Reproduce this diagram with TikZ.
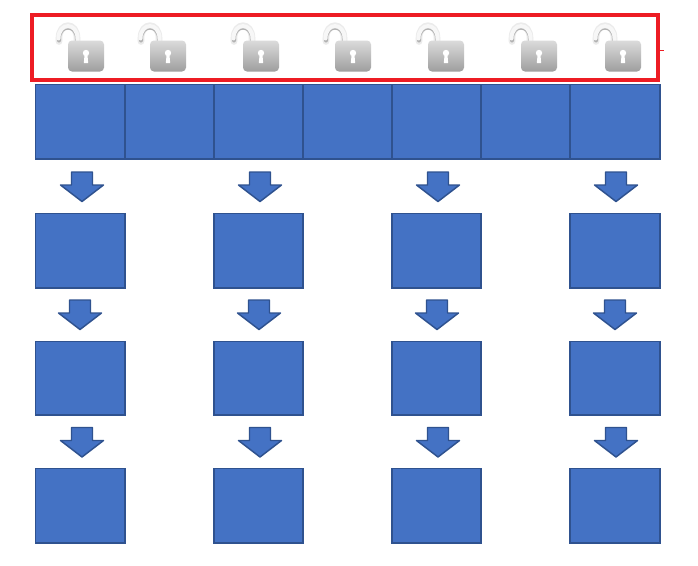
\documentclass[tikz,border=0pt]{standalone}
\usetikzlibrary{calc}
\definecolor{fillblue}{HTML}{4472C4}
\definecolor{edgeblue}{HTML}{2F528F}
\definecolor{framered}{HTML}{ED1C24}
\tikzset{
  x=0.75pt,y=-0.75pt,
  bluebox/.style={draw=edgeblue,fill=fillblue,line width=1.4pt,rectangle,inner sep=0pt,outer sep=0pt},
  blockarrow/.style={draw=edgeblue,fill=fillblue,line width=1.1pt,line join=round},
  downarrow/.pic={
    \path[blockarrow] (-10.5,0) -- (10.5,0) -- (10.5,13) -- (21.5,13) -- (0,29.5) -- (-21.5,13) -- (-10.5,13) -- cycle;
  },
  openlock/.pic={
    % shackle (origin = top-left of lock body)
    \draw[line width=5pt,color=black!8,line cap=round] (-9,1) -- (-9,-2)
       .. controls (-9,-19) and (9,-19) .. (9,-2) -- (9,2);
    \draw[line width=3pt,color=black!30,line cap=round] (-9,0) -- (-9,-2)
       .. controls (-9,-16.5) and (9,-16.5) .. (9,-2) -- (9,2);
    \draw[line width=3pt,color=black!3,line cap=round] (-9.5,-2)
       .. controls (-9.5,-18.5) and (9.5,-18.5) .. (9.5,-2) -- (9.5,2);
    \shade[top color=black!14,bottom color=black!38,rounded corners=3pt] (0,0) rectangle (36,31);
    % keyhole
    \fill[white] (18,12.5) circle (3.2);
    \fill[white] (16.6,14) -- (19.4,14) -- (20.2,22.5) -- (15.8,22.5) -- cycle;
  }
}
\begin{document}
\begin{tikzpicture}
\useasboundingbox (0,0) rectangle (698,565);
\fill[white] (0,0) rectangle (698,565);
% top strip
\foreach \n/\xa/\xb in {1/35.5/125,2/125/214,3/214/303,4/303/392,5/392/481,6/481/570,7/570/660}{
  \node[bluebox,minimum width={(\xb-\xa)*0.75pt},minimum height={74.5*0.75pt}] (top\n) at ({(\xa+\xb)/2},121.8) {};
}
% columns of boxes
\foreach \c/\xa/\xb in {a/35.5/125,b/214/303,c/392/481,d/570/660}{
  \foreach \r/\ya/\yb in {1/213.5/288,2/341.5/415,3/468.5/543}{
    \node[bluebox,minimum width={(\xb-\xa)*0.75pt},minimum height={(\yb-\ya)*0.75pt}] (box\c\r) at ({(\xa+\xb)/2},{(\ya+\yb)/2}) {};
  }
}
% block arrows
\foreach \x/\y in {82/172,260/172,438/172,616/172,80/300,259/300,437/300,615/300,82/427.5,260/427.5,438/427.5,616/427.5}{
  \pic at (\x,\y) {downarrow};
}
% locks
\foreach \x in {68,150,243,335,428,521,605}{
  \pic at (\x,40.5) {openlock};
}
% red frame
\node[draw=framered,line width=2.7pt,rectangle,inner sep=0pt,minimum width={626*0.75pt},minimum height={65*0.75pt}] (frame) at (345,47.5) {};
\coordinate (tick) at (664,50);
\draw[framered,line width=0.7pt] (frame.east |- tick) -- (tick);
\end{tikzpicture}
\end{document}
